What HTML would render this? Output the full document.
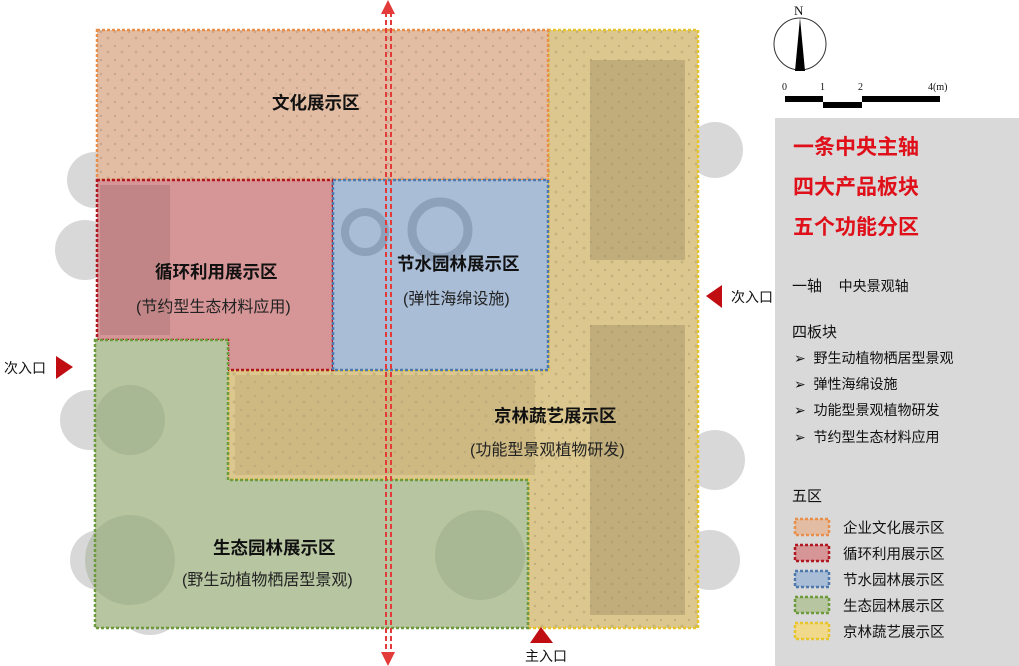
<!DOCTYPE html>
<html><head><meta charset="utf-8"><style>
html,body{margin:0;padding:0;background:#fff;}
body{width:1019px;height:666px;position:relative;overflow:hidden;font-family:"Liberation Sans","Noto Sans CJK SC",sans-serif;}
.t{position:absolute;white-space:nowrap;color:#111;}
</style></head><body>
<svg width="1019" height="666" style="position:absolute;left:0;top:0">
<defs>
<pattern id="tex" width="14" height="14" patternUnits="userSpaceOnUse">
<rect width="14" height="14" fill="none"/>
<circle cx="3" cy="4" r="1.2" fill="#000" opacity=".12"/>
<circle cx="10" cy="10" r="1.5" fill="#000" opacity=".1"/>
</pattern>
</defs>
<g fill="#c8c8c8" opacity=".7">
<circle cx="95" cy="180" r="28"/><circle cx="85" cy="250" r="30"/><circle cx="90" cy="420" r="30"/>
<circle cx="100" cy="560" r="30"/><circle cx="150" cy="600" r="35"/><circle cx="715" cy="150" r="28"/>
<circle cx="715" cy="460" r="30"/><circle cx="710" cy="560" r="30"/><circle cx="470" cy="570" r="40"/>
<circle cx="560" cy="60" r="25"/>
</g>
<path d="M548 30H698V628H528V480H228V370H548Z" fill="#dcc78e"/>
<path d="M548 30H698V628H528V480H228V370H548Z" fill="url(#tex)"/>
<rect x="590" y="60" width="95" height="200" fill="#9e8f64" opacity=".45"/>
<rect x="590" y="325" width="95" height="290" fill="#9e8f64" opacity=".45"/>
<rect x="235" y="375" width="300" height="100" fill="#b8a574" opacity=".4"/>
<path d="M548 30H698V628H528V480H228V370H548Z" fill="none" stroke="#e8c42c" stroke-width="2.5" stroke-dasharray="3 2"/>
<rect x="97" y="30" width="451" height="150" fill="#e2bda3"/>
<rect x="97" y="30" width="451" height="150" fill="url(#tex)"/>
<rect x="97" y="30" width="451" height="150" fill="none" stroke="#e98f4c" stroke-width="2.5" stroke-dasharray="3 2"/>
<path d="M97 180H333V370H228V340H97Z" fill="#d69597"/>
<rect x="100" y="185" width="70" height="150" fill="#a87273" opacity=".45"/>
<path d="M97 180H333V370H228V340H97Z" fill="none" stroke="#b01822" stroke-width="2.5" stroke-dasharray="3 2"/>
<rect x="333" y="180" width="215" height="190" fill="#a9bdd7"/>
<circle cx="365" cy="232" r="20" fill="none" stroke="#7c8ea6" stroke-width="8" opacity=".6"/>
<circle cx="440" cy="230" r="28" fill="none" stroke="#7c8ea6" stroke-width="9" opacity=".6"/>
<rect x="333" y="180" width="215" height="190" fill="none" stroke="#4f79ad" stroke-width="2.5" stroke-dasharray="3 2"/>
<path d="M95 340H228V480H528V628H95Z" fill="#b7c6a1"/>
<circle cx="130" cy="420" r="35" fill="#8f9d7a" opacity=".35"/>
<circle cx="130" cy="560" r="45" fill="#8f9d7a" opacity=".35"/>
<circle cx="480" cy="555" r="45" fill="#8f9d7a" opacity=".35"/>
<path d="M95 340H228V480H528V628H95Z" fill="none" stroke="#6e9a3e" stroke-width="2.5" stroke-dasharray="3 2"/>
<line x1="386" y1="12" x2="386" y2="652" stroke="#e33a3a" stroke-width="2" stroke-dasharray="5 3"/>
<line x1="391" y1="12" x2="391" y2="652" stroke="#e33a3a" stroke-width="2" stroke-dasharray="5 3"/>
<path d="M388 0L381 14H395Z" fill="#e33a3a"/>
<path d="M388 666L381 652H395Z" fill="#e33a3a"/>
<path d="M56 356L73 367L56 379Z" fill="#c00d12"/>
<path d="M722 285L706 296L722 308Z" fill="#c00d12"/>
<path d="M541 627L530 643H553Z" fill="#c00d12"/>
<circle cx="800" cy="44" r="26" fill="#fff" stroke="#333" stroke-width="1"/>
<path d="M800 18L795 71H805Z" fill="#000"/>
<rect x="785" y="96" width="38" height="6" fill="#000"/>
<rect x="823" y="102" width="39" height="6" fill="#000"/>
<rect x="862" y="96" width="78" height="6" fill="#000"/>
<rect x="775" y="118" width="244" height="548" fill="#d9d9d9"/>
<rect x="795" y="519" width="34" height="16" fill="#e2bda3" stroke="#e98f4c" stroke-width="2.5" stroke-dasharray="3 2"/>
<rect x="795" y="545" width="34" height="16" fill="#d69597" stroke="#b01822" stroke-width="2.5" stroke-dasharray="3 2"/>
<rect x="795" y="571" width="34" height="16" fill="#a9bdd7" stroke="#4f79ad" stroke-width="2.5" stroke-dasharray="3 2"/>
<rect x="795" y="597" width="34" height="16" fill="#b7c6a1" stroke="#6e9a3e" stroke-width="2.5" stroke-dasharray="3 2"/>
<rect x="795" y="623" width="34" height="16" fill="#f0d98a" stroke="#e8c42c" stroke-width="2.5" stroke-dasharray="3 2"/>
</svg>
<div class="t" style="left:794px;top:3px;font-family:'Liberation Serif',serif;font-size:13px">N</div>
<div class="t" style="left:782px;top:82px;font-family:'Liberation Serif',serif;font-size:10px">0</div>
<div class="t" style="left:820px;top:82px;font-family:'Liberation Serif',serif;font-size:10px">1</div>
<div class="t" style="left:858px;top:82px;font-family:'Liberation Serif',serif;font-size:10px">2</div>
<div class="t" style="left:928px;top:82px;font-family:'Liberation Serif',serif;font-size:10px">4(m)</div>

<div class="t" style="left:272px;top:90px;font-size:17.5px;font-weight:bold">文化展示区</div>
<div class="t" style="left:155px;top:259px;font-size:17.5px;font-weight:bold">循环利用展示区</div>
<div class="t" style="left:136px;top:293px;font-size:16px;color:#222">(节约型生态材料应用)</div>
<div class="t" style="left:397px;top:251px;font-size:17.5px;font-weight:bold">节水园林展示区</div>
<div class="t" style="left:403px;top:285px;font-size:16px;color:#222">(弹性海绵设施)</div>
<div class="t" style="left:494px;top:403px;font-size:17.5px;font-weight:bold">京林蔬艺展示区</div>
<div class="t" style="left:470px;top:436px;font-size:16px;color:#222">(功能型景观植物研发)</div>
<div class="t" style="left:213px;top:535px;font-size:17.5px;font-weight:bold">生态园林展示区</div>
<div class="t" style="left:182px;top:566px;font-size:16px;color:#222">(野生动植物栖居型景观)</div>

<div class="t" style="left:4px;top:358px;font-size:14px">次入口</div>
<div class="t" style="left:731px;top:287px;font-size:14px">次入口</div>
<div class="t" style="left:525px;top:646px;font-size:14px">主入口</div>

<div class="t" style="left:793px;top:131px;font-size:21px;font-weight:bold;color:#e0101a">一条中央主轴</div>
<div class="t" style="left:793px;top:171px;font-size:21px;font-weight:bold;color:#e0101a">四大产品板块</div>
<div class="t" style="left:793px;top:211px;font-size:21px;font-weight:bold;color:#e0101a">五个功能分区</div>
<div class="t" style="left:792px;top:275px;font-size:15px">一轴&nbsp;&nbsp;&nbsp; <span style="font-size:14px">中央景观轴</span></div>
<div class="t" style="left:792px;top:321px;font-size:15px">四板块</div>
<div class="t" style="left:794px;top:348px;font-size:14px">➢&nbsp; 野生动植物栖居型景观</div>
<div class="t" style="left:794px;top:374px;font-size:14px">➢&nbsp; 弹性海绵设施</div>
<div class="t" style="left:794px;top:400px;font-size:14px">➢&nbsp; 功能型景观植物研发</div>
<div class="t" style="left:794px;top:427px;font-size:14px">➢&nbsp; 节约型生态材料应用</div>
<div class="t" style="left:792px;top:485px;font-size:15px">五区</div>
<div class="t" style="left:843px;top:517px;font-size:14.5px">企业文化展示区</div>
<div class="t" style="left:843px;top:543px;font-size:14.5px">循环利用展示区</div>
<div class="t" style="left:843px;top:569px;font-size:14.5px">节水园林展示区</div>
<div class="t" style="left:843px;top:595px;font-size:14.5px">生态园林展示区</div>
<div class="t" style="left:843px;top:621px;font-size:14.5px">京林蔬艺展示区</div>
</body></html>
